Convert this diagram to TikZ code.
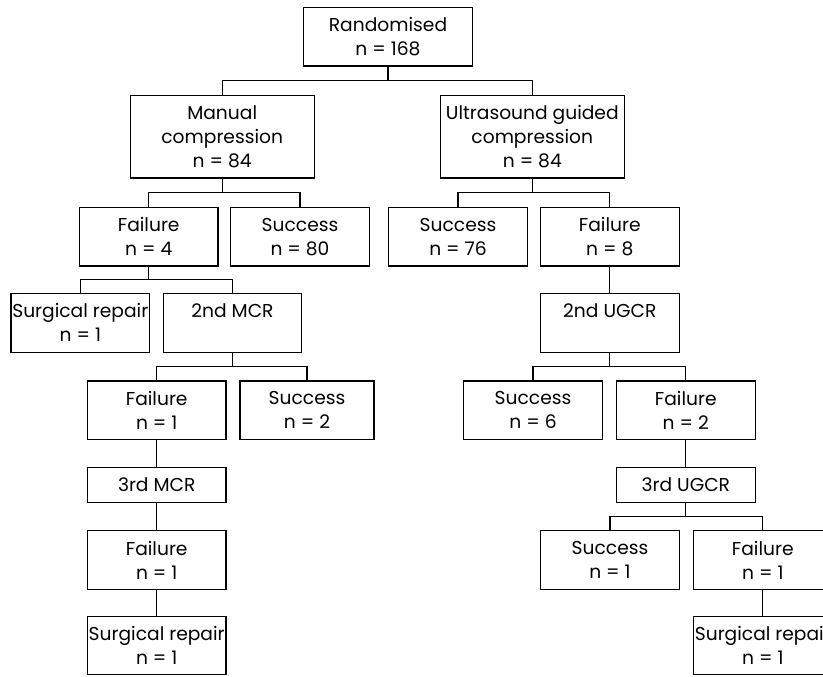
\documentclass[tikz,border=0pt]{standalone}
\usepackage{fontspec}
\setmainfont{Poppins}
\usetikzlibrary{calc}

\begin{document}
\begin{tikzpicture}[x=0.75pt,y=-0.75pt,
    box/.style={draw,line width=0.85pt,align=center,inner sep=1pt,font=\fontsize{14}{18}\selectfont,minimum width=104,minimum height=44},
    wide/.style={box,minimum width=138,minimum height=62},
    onel/.style={box,minimum height=26},
    link/.style={line width=0.85pt},
    fork/.style={to path={|- ($(\tikztostart)!.5!(\tikztotarget)$) -| (\tikztotarget)}}
  ]
    \useasboundingbox (0,0) rectangle (823,676);
    % top of the tree
    \node[box,minimum width=127] (rand) at (388,36.7) {Randomised\\n = 168};
    \node[wide] (mc) at (222.2,136.7) {Manual\\compression\\n = 84};
    \node[wide] (ugc) at (532.3,136.7) {Ultrasound guided\\compression\\n = 84};
    % manual compression arm
    \node[box] (mfail) at (148.7,236.7) {Failure\\n = 4};
    \node[box] (msucc) at (300,236.7) {Success\\n = 80};
    \node[box] (msurg) at (80.3,322.8) {Surgical repair\\n = 1};
    \node[box] (mcr2) at (232.5,322.8) {2nd MCR\\\mbox{}};
    \node[box] (mfail2) at (156.7,410.3) {Failure\\n = 1};
    \node[box,minimum width=100.5] (msucc2) at (307,410.3) {Success\\n = 2};
    \node[onel] (mcr3) at (156.7,484.8) {3rd MCR};
    \node[box] (mfail3) at (156.7,560) {Failure\\n = 1};
    \node[box] (msurg2) at (156.7,645.5) {Surgical repair\\n = 1};
    % ultrasound guided arm
    \node[box] (usucc) at (458,236.7) {Success\\n = 76};
    \node[box] (ufail) at (609.8,236.7) {Failure\\n = 8};
    \node[box] (ugcr2) at (609.8,322.8) {2nd UGCR\\\mbox{}};
    \node[box] (usucc2) at (533,410.3) {Success\\n = 6};
    \node[box] (ufail2) at (685.8,410.3) {Failure\\n = 2};
    \node[onel] (ugcr3) at (685.8,484.8) {3rd UGCR};
    \node[box] (usucc3) at (610,560) {Success\\n = 1};
    \node[box] (ufail3) at (762.8,560) {Failure\\n = 1};
    \node[box] (usurg) at (762.8,645.5) {Surgical repair\\n = 1};
    % connectors
    \draw[link] (rand.south) to[fork] (mc.north); \draw[link] (rand.south) to[fork] (ugc.north);
    \draw[link] (mc.south) to[fork] (mfail.north); \draw[link] (mc.south) to[fork] (msucc.north);
    \draw[link] (mfail.south) to[fork] (msurg.north); \draw[link] (mfail.south) to[fork] (mcr2.north);
    \draw[link] (mcr2.south) to[fork] (mfail2.north); \draw[link] (mcr2.south) to[fork] (msucc2.north);
    \draw[link] (mfail2) -- (mcr3); \draw[link] (mcr3) -- (mfail3); \draw[link] (mfail3) -- (msurg2);
    \draw[link] (ugc.south) to[fork] (usucc.north); \draw[link] (ugc.south) to[fork] (ufail.north);
    \draw[link] (ufail) -- (ugcr2);
    \draw[link] (ugcr2.south) to[fork] (usucc2.north); \draw[link] (ugcr2.south) to[fork] (ufail2.north);
    \draw[link] (ufail2) -- (ugcr3);
    \draw[link] (ugcr3.south) to[fork] (usucc3.north); \draw[link] (ugcr3.south) to[fork] (ufail3.north);
    \draw[link] (ufail3) -- (usurg);
\end{tikzpicture}
\end{document}
